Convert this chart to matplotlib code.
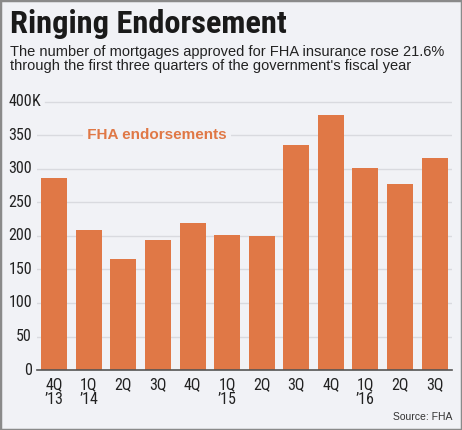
import matplotlib
matplotlib.use("Agg")
import matplotlib.pyplot as plt
from matplotlib.patches import Rectangle

quarters = ["4Q\n\u201913", "1Q\n\u201914", "2Q", "3Q", "4Q", "1Q\n\u201915", "2Q",
            "3Q", "4Q", "1Q\n\u201916", "2Q", "3Q"]
endorsements = [286, 209, 165, 194, 220, 202, 200, 336, 381, 302, 278, 317]
ytick_values = [0, 50, 100, 150, 200, 250, 300, 350, 400]

bg = "#f1f2f6"
orange = "#e07846"
cond = ['Roboto Condensed', 'DejaVu Sans']

plt.rcParams['font.family'] = ['Liberation Sans', 'DejaVu Sans']

fig = plt.figure(figsize=(4.62, 4.30), dpi=100, facecolor=bg)
ax = fig.add_axes([0.080, 0.1395, 0.898, 0.6312], facecolor=bg)

ax.bar(range(len(endorsements)), endorsements, width=0.75, color=orange, zorder=3)
ax.set_xlim(-0.5, 11.5)
ax.set_ylim(0, 405)

# gridlines
for v in ytick_values[1:]:
    ax.axhline(v, color="#d9dadf", lw=1, zorder=1,
               xmin=0.02 if v == 400 else 0.0)

for s in ["top", "right", "left"]:
    ax.spines[s].set_visible(False)
ax.spines["bottom"].set_color("#555555")
ax.spines["bottom"].set_linewidth(1.2)
ax.spines["bottom"].set_zorder(4)

ax.set_yticks([])
ax.set_xticks(range(len(quarters)))
ax.set_xticklabels(quarters, fontsize=11.5, color="#222222", linespacing=1.0,
                   family=cond)
ax.tick_params(axis="x", length=0, pad=5)

# y labels
ytr = ax.get_yaxis_transform()
for v in ytick_values:
    lab = "400" if v == 400 else str(v)
    ax.text(-0.012, v, lab, transform=ytr, ha="right", va="center",
            fontsize=11.5, color="#222222", family=cond)
ax.text(-0.012, 400, "K", transform=ytr, ha="left", va="center",
        fontsize=11.5, color="#222222", family=cond)

ax.text(0.83, 350, " FHA endorsements ", ha="left", va="center", fontsize=11,
        fontweight="bold", color=orange, zorder=2,
        bbox=dict(facecolor=bg, edgecolor="none", pad=0))

fig.text(10 / 462, 1 - 33 / 430, "Ringing Endorsement",
         family=cond, fontweight="bold",
         fontsize=23.3, color="#1a1a1a", ha="left", va="baseline")
fig.text(10 / 462, 1 - 56 / 430,
         "The number of mortgages approved for FHA insurance rose 21.6%",
         fontsize=10.5, color="#222222", ha="left", va="baseline")
fig.text(10 / 462, 1 - 70 / 430,
         "through the first three quarters of the government's fiscal year",
         fontsize=10.5, color="#222222", ha="left", va="baseline")
fig.text(452 / 462, 1 - 420 / 430, "Source: FHA", fontsize=7.5, color="#333333",
         ha="right", va="baseline")

fig.patches.append(Rectangle((0, 0), 1, 1, transform=fig.transFigure, fill=False,
                             edgecolor="#8a8a8a", lw=2.5))

fig.savefig("out.png", dpi=100, facecolor=bg)
